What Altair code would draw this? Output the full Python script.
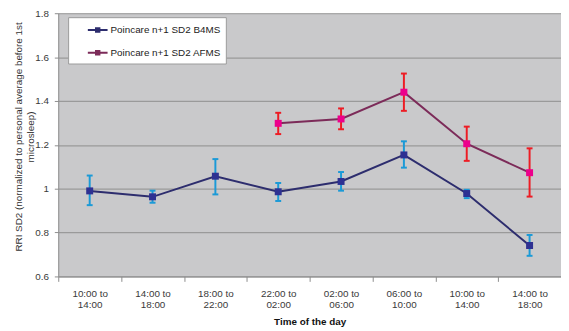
import json
import altair as alt
import pandas as pd

slot_start = ["10:00 to", "14:00 to", "18:00 to", "22:00 to", "02:00 to", "06:00 to", "10:00 to", "14:00 to"]
slot_end = ["14:00", "18:00", "22:00", "02:00", "06:00", "10:00", "14:00", "18:00"]

series_names = ["Poincare n+1 SD2 B4MS", "Poincare n+1 SD2 AFMS"]

b4ms_mean = [0.99, 0.963, 1.057, 0.986, 1.033, 1.154, 0.978, 0.741]
b4ms_low = [0.925, 0.936, 0.974, 0.944, 0.991, 1.096, 0.957, 0.694]
b4ms_high = [1.06, 0.991, 1.135, 1.026, 1.076, 1.216, 0.995, 0.789]

afms_mean = [None, None, None, 1.298, 1.318, 1.44, 1.205, 1.073]
afms_low = [None, None, None, 1.249, 1.271, 1.355, 1.127, 0.964]
afms_high = [None, None, None, 1.346, 1.366, 1.525, 1.283, 1.184]

y_ticks = [0.6, 0.8, 1.0, 1.2, 1.4, 1.6, 1.8]

line_colors = ["#2d2d6e", "#7c2b59"]
marker_colors = ["#2e3192", "#ec008c"]
errbar_colors = ["#1b9ad7", "#ed1c24"]

rows = []
for name, means, lows, highs in [
    (series_names[0], b4ms_mean, b4ms_low, b4ms_high),
    (series_names[1], afms_mean, afms_low, afms_high),
]:
    for i, (m, lo, hi) in enumerate(zip(means, lows, highs)):
        if m is None:
            continue
        rows.append({"slot": i, "series": name, "mean": m, "low": lo, "high": hi})
df = pd.DataFrame(rows)

FONT = "Liberation Sans"
label_lines = [[s, e] for s, e in zip(slot_start, slot_end)]

x_enc = alt.X(
    "slot:O",
    scale=alt.Scale(type="band", paddingInner=0, paddingOuter=0, domain=list(range(len(slot_start)))),
    title="Time of the day",
    axis=alt.Axis(
        labelExpr=json.dumps(label_lines) + "[datum.value]",
        labelAngle=0,
        tickBand="extent",
        tickSize=5,
        labelPadding=7,
        labelLineHeight=12,
        labelFont=FONT,
        labelFontSize=10,
        labelColor="#3a3a3a",
        domainColor="#8c8c8c",
        tickColor="#8c8c8c",
        grid=False,
        titleFont=FONT,
        titleFontSize=10,
        titleFontWeight="bold",
        titleColor="#111111",
        titlePadding=7,
    ),
)

y_title = ["RRI SD2 (normalized to personal average before 1st", "microsleep)"]


def y_enc(field):
    return alt.Y(
        f"{field}:Q",
        scale=alt.Scale(domain=[0.6, 1.8], nice=False, zero=False),
        title=y_title,
        axis=alt.Axis(
            values=y_ticks,
            format="~g",
            tickSize=4,
            labelPadding=6,
            labelFont=FONT,
            labelFontSize=10,
            labelColor="#3a3a3a",
            domainColor="#8c8c8c",
            tickColor="#8c8c8c",
            grid=True,
            gridColor="#9a9a9a",
            gridWidth=1.2,
            titleFont=FONT,
            titleFontSize=10,
            titleFontWeight="normal",
            titleColor="#333333",
            titleLineHeight=12,
            titleX=-35,
            titleY=125,
            titleAngle=-90,
            titleAlign="center",
            titleBaseline="bottom",
        ),
    )


legend_def = alt.Legend(
    title=None,
    orient="none",
    legendX=10,
    legendY=4,
    zindex=2,
    direction="vertical",
    fillColor="white",
    strokeColor="#9a9a9a",
    padding=5,
    symbolType="M-1.43,0H1.43M-0.25,-0.25H0.25V0.25H-0.25Z",
    symbolSize=196,
    symbolStrokeWidth=2,
    symbolOffset=17,
    labelOffset=5,
    rowPadding=9,
    labelFont=FONT,
    labelFontSize=10,
    labelColor="#222222",
    labelExpr="datum.label + '\u00a0\u00a0\u00a0\u00a0\u00a0\u00a0'",
)

# error-bar colours without a scale (so no disabled legend shares the series domain)
err_color = alt.condition(
    alt.datum.series == series_names[0], alt.value(errbar_colors[0]), alt.value(errbar_colors[1])
)
stroke_enc = alt.Stroke("series:N", scale=alt.Scale(domain=series_names, range=line_colors), legend=legend_def)
fill_enc = alt.Fill("series:N", scale=alt.Scale(domain=series_names, range=marker_colors), legend=legend_def)

base = alt.Chart(df)

rules = base.mark_rule(strokeWidth=2).encode(x=x_enc, y=y_enc("low"), y2="high:Q", color=err_color)
caps_low = base.mark_tick(size=6, thickness=2, opacity=1).encode(x=x_enc, y=y_enc("low"), color=err_color)
caps_high = base.mark_tick(size=6, thickness=2, opacity=1).encode(x=x_enc, y=y_enc("high"), color=err_color)

lines = base.mark_line(strokeWidth=2).encode(x=x_enc, y=y_enc("mean"), stroke=stroke_enc)

points = base.mark_point(shape="square", filled=True, size=50, opacity=1, strokeWidth=0.01).encode(
    x=x_enc, y=y_enc("mean"), fill=fill_enc, stroke=stroke_enc
)

chart = (
    alt.layer(rules, caps_low, caps_high, lines, points)
    .properties(
        width=510,
        height=267,
        padding={"left": 51, "top": 3, "right": 0, "bottom": 50},
        autosize=alt.AutoSizeParams(type="none"),
        background="white",
    )
    .configure_view(fill="#c9c9cb", stroke=None)
    .configure_legend(strokeWidth=1)
)

chart.save("out.html", embed_options={"renderer": "svg", "actions": False})
